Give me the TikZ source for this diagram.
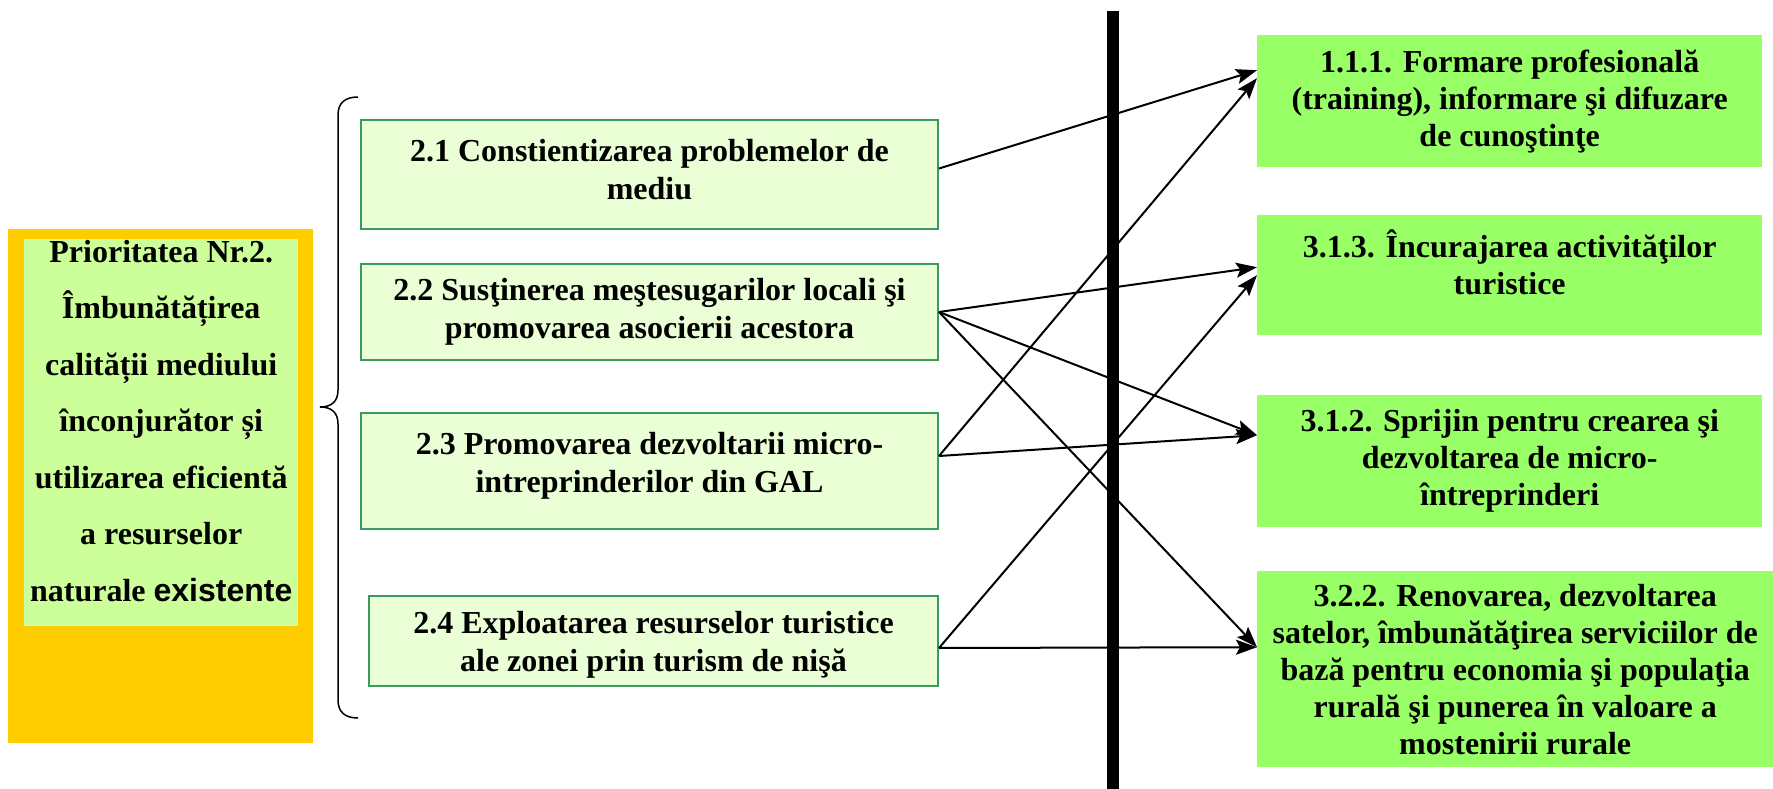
\documentclass[tikz,border=0pt]{standalone}
\usepackage{fontspec}
\setmainfont{Liberation Serif}
\newfontfamily\arialfont{Liberation Sans}
\usepackage{xcolor}
\usepackage{tikz}
\usetikzlibrary{arrows.meta}

\definecolor{prioOrange}{HTML}{FFCC00}
\definecolor{prioGreen}{HTML}{CCFF99}
\definecolor{measFill}{HTML}{EAFFD6}
\definecolor{measLine}{HTML}{3A9A62}
\definecolor{axisFill}{HTML}{99FF66}

\tikzset{
  measure/.style={draw=measLine, line width=2pt, fill=measFill, anchor=north west, align=center, inner sep=0pt, font=\bfseries\fontsize{32}{38}\selectfont},
  axisbox/.style={fill=axisFill, anchor=north west, align=center, inner sep=0pt, font=\bfseries\fontsize{32}{37}\selectfont},
  link/.style={line width=2pt, -{Stealth[length=21pt,width=15pt,inset=4pt]}},
}

\begin{document}
\begin{tikzpicture}[x=1pt, y=-1pt]
\useasboundingbox (0,0) rectangle (1773,789);
\node (prio) [fill=prioOrange, anchor=north west, inner sep=0pt, minimum width=305pt, minimum height=514pt] at (8,229) {};
\node (prioText) [fill=prioGreen, anchor=north west, inner sep=0pt, minimum width=274pt, minimum height=387pt, text depth=24pt, align=center, font=\bfseries\fontsize{32}{56.5}\selectfont] at (24,239) {Prioritatea Nr.2.\\ Îmbunătățirea\\ calității mediului\\ înconjurător și\\ utilizarea eficientă\\ a resurselor\\ naturale {\arialfont existente}};
\draw[line width=1.5pt] (358,97) .. controls (345,97) and (338,103) .. (338,115) -- (338,390) .. controls (338,402) and (331,407) .. (320,407) .. controls (331,407) and (338,412) .. (338,424) -- (338,700) .. controls (338,712) and (345,718) .. (358,718);
\node (m21) [measure, minimum width=577pt, minimum height=109pt, text depth=10pt] at (360,119) {2.1 Constientizarea problemelor de\\ mediu};
\node (m22) [measure, minimum width=577pt, minimum height=96pt] at (360,263) {2.2 Susţinerea meştesugarilor locali şi\\ promovarea asocierii acestora};
\node (m23) [measure, minimum width=577pt, minimum height=116pt, text depth=17pt] at (360,412) {2.3 Promovarea dezvoltarii micro-\\ intreprinderilor din GAL};
\node (m24) [measure, minimum width=569pt, minimum height=90pt, text depth=-7pt] at (368,595) {2.4 Exploatarea resurselor turistice\\ ale zonei prin turism de nişă};
\node (o111) [axisbox, minimum width=505pt, minimum height=132pt] at (1257,35) {1.1.1. Formare profesională\\ (training), informare şi difuzare\\ de cunoştinţe};
\node (o313) [axisbox, minimum width=505pt, minimum height=120pt, text depth=26pt] at (1257,215) {3.1.3. Încurajarea activităţilor\\ turistice};
\node (o312) [axisbox, minimum width=505pt, minimum height=132pt] at (1257,395) {3.1.2. Sprijin pentru crearea şi\\ dezvoltarea de micro-\\ întreprinderi};
\node (o322) [axisbox, minimum width=516pt, minimum height=196pt] at (1257,571) {3.2.2. Renovarea, dezvoltarea\\ satelor, îmbunătăţirea serviciilor de\\ bază pentru economia şi populaţia\\ rurală şi punerea în valoare a\\ mostenirii rurale};
\coordinate (barTop) at (1113,11);
\coordinate (barEnd) at (1113,789);
\draw[line width=12pt] (barTop) -- (barEnd);
\draw[link] ([yshift=6pt]m21.east) -- ([yshift=31pt]o111.west);
\draw[link] ([yshift=15pt]m23.east) -- ([yshift=23pt]o111.west);
\draw[link] (m22.east) -- ([yshift=8pt]o313.west);
\draw[link] ([yshift=-7pt]m24.east) -- (o313.west);
\draw[link] (m22.east) -- ([yshift=26pt]o312.west);
\draw[link] ([yshift=15pt]m23.east) -- ([yshift=26pt]o312.west);
\draw[link] (m22.east) -- ([yshift=22pt]o322.west);
\draw[link] ([yshift=-7pt]m24.east) -- ([yshift=22pt]o322.west);
\end{tikzpicture}
\end{document}
